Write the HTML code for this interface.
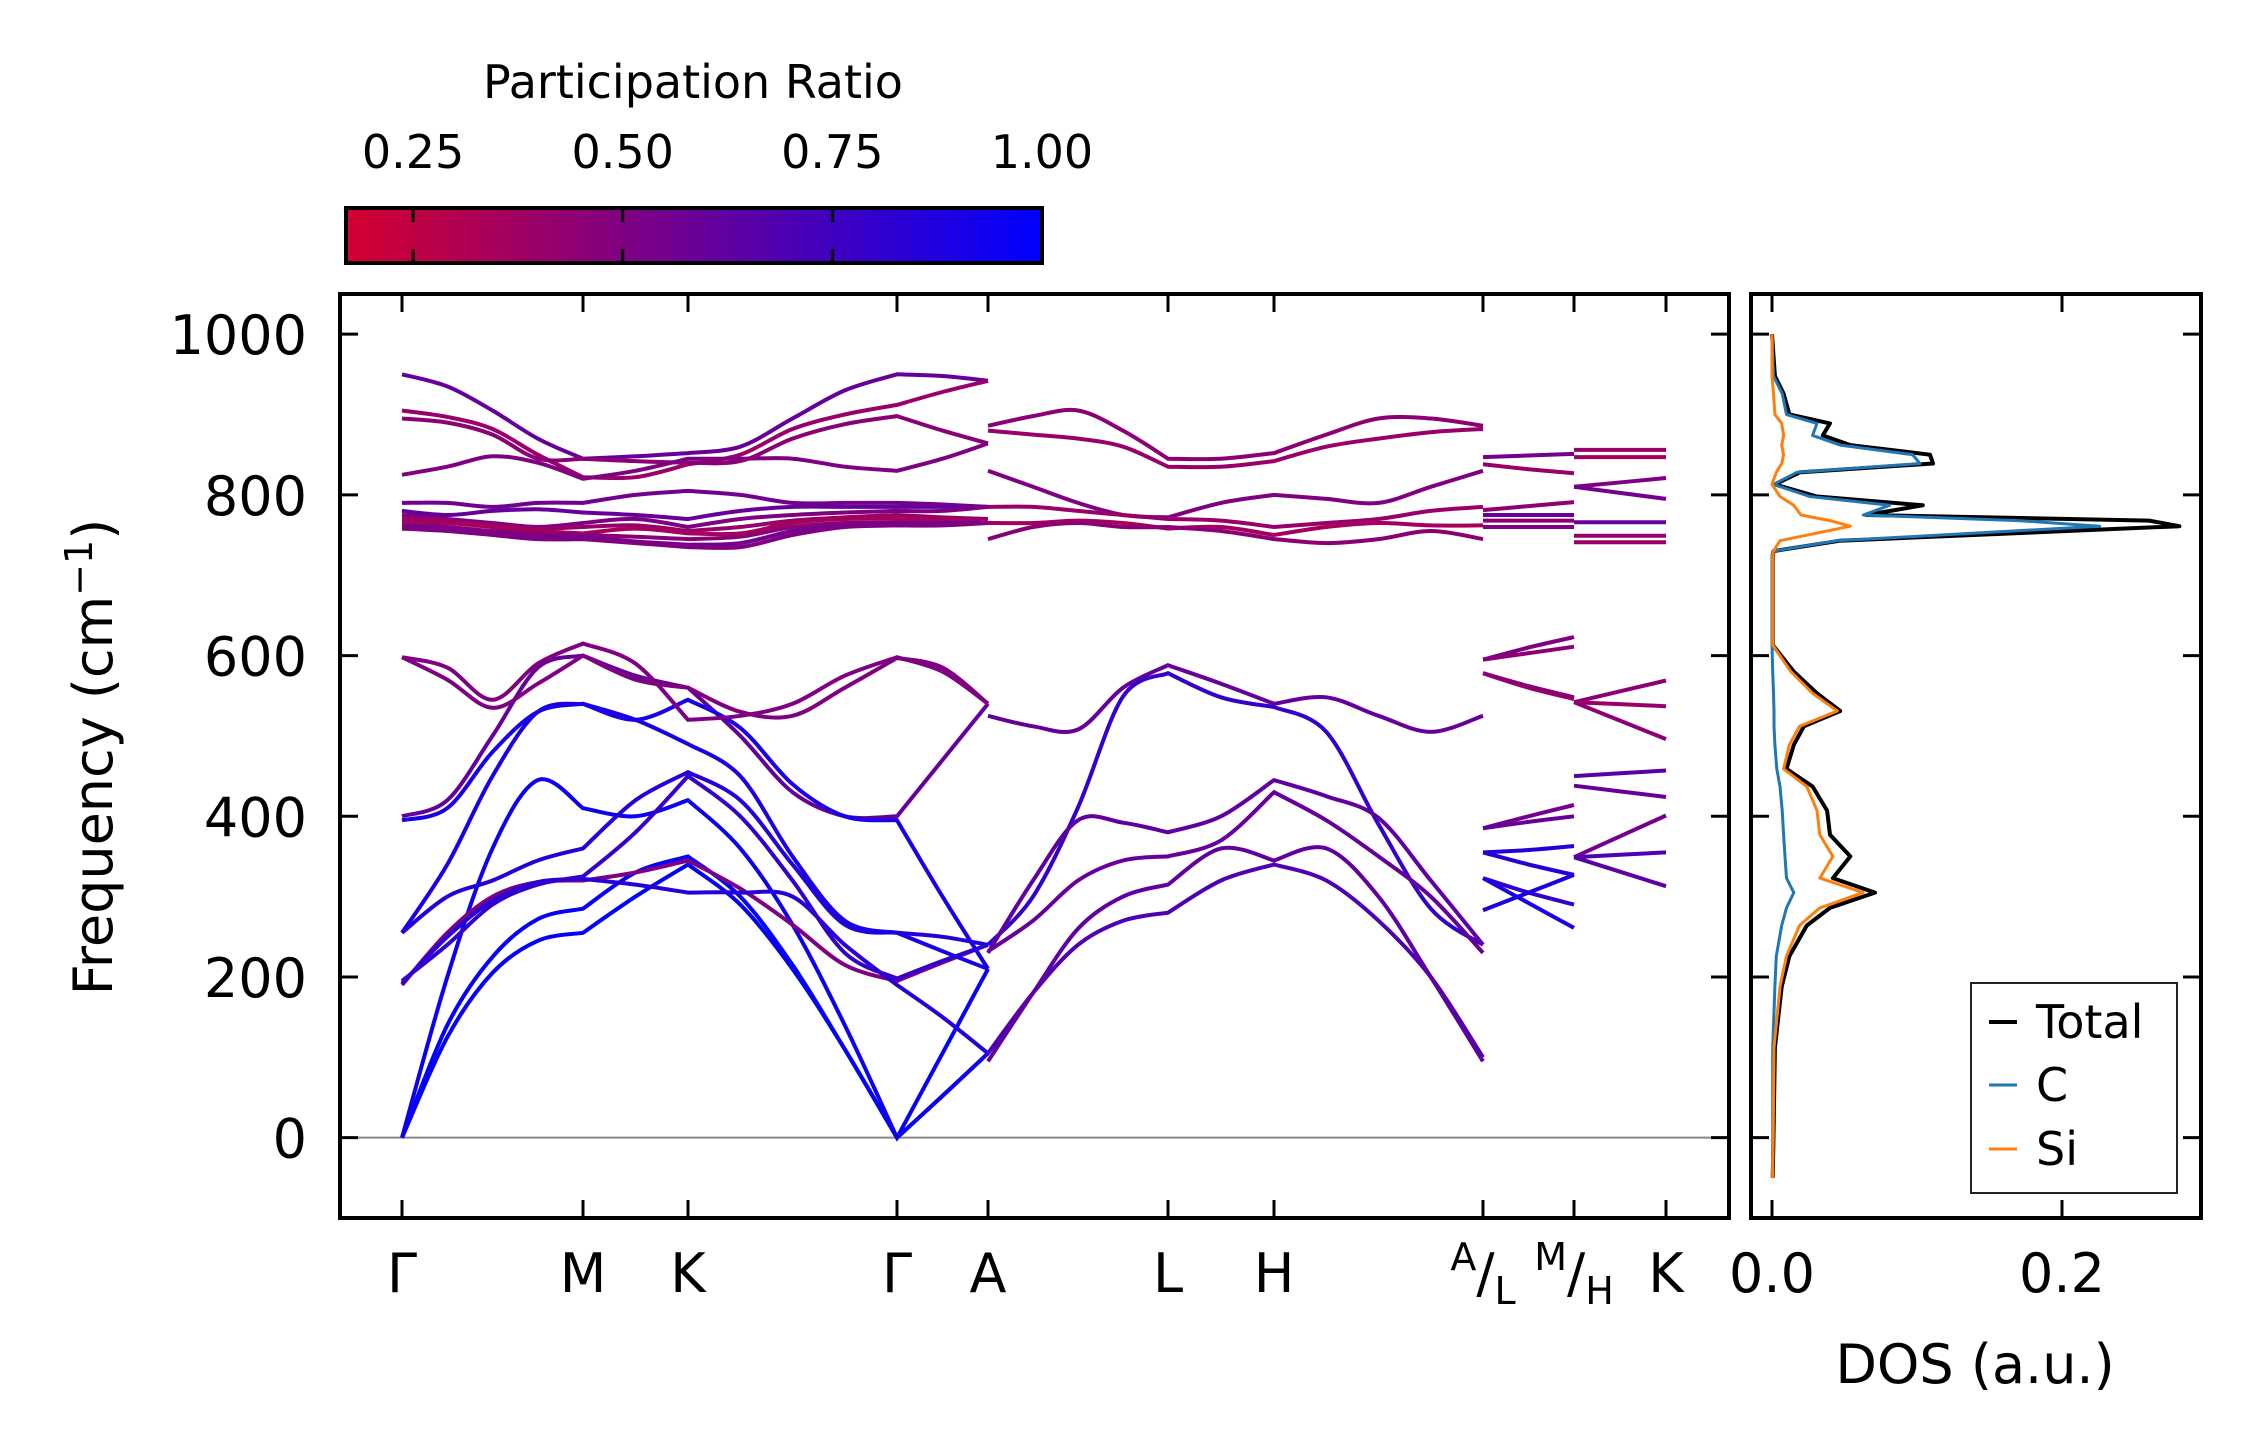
<!DOCTYPE html>
<html><head><meta charset="utf-8">
<style>
html,body{margin:0;padding:0;background:#fff;}
svg{display:block;font-family:"DejaVu Sans","Liberation Sans",sans-serif;}
</style></head>
<body>
<svg id="fig" width="2259" height="1455" viewBox="0 0 2259 1455" xmlns="http://www.w3.org/2000/svg">
<defs>
<linearGradient id="cbgrad" x1="0" x2="1" y1="0" y2="0">
<stop offset="0" stop-color="rgb(212,0,47)"/>
<stop offset="1" stop-color="rgb(0,0,255)"/>
</linearGradient>
<clipPath id="mainclip"><rect x="340" y="294" width="1389" height="924"/></clipPath>
<clipPath id="dosclip"><rect x="1751" y="294" width="450" height="924"/></clipPath>
</defs>
<g id="colorbar">
<text x="693" y="98" font-size="46" text-anchor="middle">Participation Ratio</text>
<rect x="346" y="208" width="696" height="55" fill="url(#cbgrad)" stroke="#000" stroke-width="4"/>
</g>
<g id="bands" clip-path="url(#mainclip)"></g>
<g id="dos" clip-path="url(#dosclip)"></g>
<g id="axes"></g>
<text transform="translate(112,757) rotate(-90)" font-size="54" text-anchor="middle">Frequency (cm<tspan dy="-20" font-size="38">−1</tspan><tspan dy="20">)</tspan></text>
<text x="1975" y="1383" font-size="54" text-anchor="middle">DOS (a.u.)</text>
<g>
<rect x="1971" y="983" width="206" height="210" fill="#fff" stroke="#222" stroke-width="2"/>
<line x1="1989" y1="1022" x2="2017" y2="1022" stroke="#000" stroke-width="4"/>
<text x="2036" y="1038" font-size="46">Total</text>
<line x1="1989" y1="1085" x2="2017" y2="1085" stroke="#1f77b4" stroke-width="3"/>
<text x="2036" y="1101" font-size="46">C</text>
<line x1="1989" y1="1149" x2="2017" y2="1149" stroke="#ff7f0e" stroke-width="3"/>
<text x="2036" y="1165" font-size="46">Si</text>
</g>
</svg>
<script>
// ---- data ----
const kLabels = ["Γ","M","K","Γ","A","L","H","A/L","M/H","K"];
const yTicks = [0,200,400,600,800,1000];
const cbTicks = [0.25,0.5,0.75,1.0];
const dosTicks = [0.0,0.2];
// section sample positions (in high-symmetry-point index units)
const sec1K = [0,0.25,0.5,0.75,1,1.5,2,2.25,2.5,2.75,3,3.5,4];
const sec2K = [4,4.25,4.5,4.75,5,5.5,6,6.25,6.5,6.75,7];
const sec3K = [7,7.5,8];
const sec4K = [8,9];
// section 1: Γ-M-K-Γ-A
const sec1Bands = [
[950,935,905,870,845,848,852,860,895,930,950,948,942],
[905,897,882,850,822,822,838,850,882,900,912,928,942],
[895,890,875,845,845,842,840,842,870,888,898,880,864],
[825,835,848,840,820,830,845,845,845,835,830,845,864],
[790,790,785,790,790,800,805,800,790,790,790,788,785],
[780,775,780,782,778,775,770,780,785,785,785,785,785],
[775,770,765,760,765,770,760,770,775,778,780,780,785],
[770,768,762,758,760,762,755,760,768,772,775,772,770],
[765,765,760,755,752,758,752,752,765,770,770,768,765],
[762,760,755,752,750,748,745,748,760,765,765,765,765],
[760,758,752,748,748,742,738,740,755,762,765,765,765],
[758,755,750,745,745,740,735,735,750,760,762,762,765],
[0,125,205,245,255,300,340,290,210,110,0,52,105],
[0,140,225,272,285,330,350,300,215,110,0,105,210],
[0,200,360,445,410,400,420,360,265,140,0,52,105],
[190,255,300,318,320,330,345,310,265,215,195,218,240],
[192,250,295,318,322,315,305,305,300,240,190,150,105],
[195,240,290,315,325,380,450,400,320,230,198,220,240],
[255,300,320,345,360,420,455,420,340,265,255,250,240],
[255,340,450,530,540,520,490,450,350,270,255,232,210],
[400,420,500,585,600,575,560,500,430,400,400,470,540],
[395,410,480,530,540,520,545,510,440,400,395,300,210],
[598,570,535,565,600,570,560,530,525,560,597,585,540],
[598,585,545,590,615,590,520,525,540,575,598,580,540]];
const sec1PR = [0.6,0.4,0.45,0.5,0.55,0.6,0.5,0.4,0.35,0.45,0.55,0.5,
0.98,0.98,0.95,0.5,0.85,0.8,0.85,0.9,0.6,0.9,0.5,0.5];
// section 2: A-L-H-A
const sec2Bands = [
[886,898,905,880,845,845,852,875,895,895,886],
[880,875,870,860,835,835,842,860,870,878,882],
[830,810,790,775,772,790,800,795,790,810,830],
[785,785,780,775,770,768,760,765,770,780,785],
[765,765,768,765,758,760,750,760,765,762,762],
[745,760,765,760,760,755,745,740,745,755,745],
[525,512,508,560,588,565,540,548,525,505,525],
[240,300,411,549,578,548,536,505,390,285,240],
[230,320,395,392,380,400,445,425,398,320,240],
[232,270,320,345,350,370,430,395,350,300,230],
[105,180,240,270,280,320,340,320,270,200,100],
[95,180,260,300,315,360,345,360,300,200,95]];
const sec2PR = [0.45,0.4,0.5,0.4,0.35,0.45,0.6,0.8,0.62,0.6,0.7,0.62];
// section 3: L-M
const sec3Bands = [
[847,849,851],[838,832,827],[781,786,791],[775,775,775],[768,768,768],[760,760,760],
[595,610,623],[595,603,611],[578,560,546],[578,562,548],[385,400,414],[385,393,400],
[355,358,363],[355,340,327],[323,305,290],[323,292,261],[283,305,327]];
const sec3PR = [0.55,0.4,0.45,0.6,0.45,0.5,0.5,0.45,0.4,0.45,0.55,0.6,0.85,0.85,0.8,0.9,0.9];
// section 4: H-K
const sec4Bands = [
[856,856],[847,847],[810,821],[810,795],[766,766],[749,749],[741,741],
[542,569],[542,537],[542,496],[450,457],[438,424],[349,401],[349,355],[349,313]];
const sec4PR = [0.4,0.35,0.5,0.55,0.6,0.4,0.4,0.45,0.4,0.45,0.65,0.6,0.55,0.7,0.65];
// DOS
const dosFreq  = [-50,0,112,188,226,264,286,305,323,350,377,407,437,459,489,512,531,553,580,613,725,730,743,761,768,775,787,798,813,828,839,850,862,874,889,900,926,948,1000];
const dosTotal = [0.0005,0.001,0.002,0.0067,0.012,0.024,0.040,0.071,0.042,0.054,0.040,0.038,0.028,0.010,0.015,0.022,0.047,0.031,0.015,0.0005,0.0005,0.001,0.047,0.281,0.26,0.065,0.104,0.031,0.002,0.019,0.111,0.109,0.054,0.035,0.040,0.012,0.008,0.002,0.0];
const dosC     = [0.0003,0.0005,0.0005,0.002,0.003,0.0067,0.010,0.015,0.010,0.009,0.008,0.007,0.0055,0.0033,0.002,0.0014,0.0014,0.001,0.0005,0.0,0.0,0.001,0.045,0.226,0.17,0.063,0.081,0.026,0.001,0.017,0.102,0.097,0.047,0.028,0.031,0.010,0.007,0.001,0.0];
const dosSi    = [0.0004,0.0008,0.0014,0.0055,0.010,0.019,0.033,0.063,0.033,0.042,0.033,0.031,0.024,0.008,0.012,0.019,0.045,0.028,0.013,0.0005,0.0005,0.001,0.0055,0.054,0.04,0.020,0.015,0.0055,0.0,0.003,0.0067,0.008,0.0067,0.008,0.0067,0.002,0.001,0.0,0.0];

// ---- scales ----
const NS = "http://www.w3.org/2000/svg";
const kTickX = [402,583,688,897,988,1168,1274,1483,1574,1666];
const plotL = 340, plotR = 1729, plotT = 294, plotB = 1218;
const dosL = 1751, dosR = 2201;
const yMin = -100, yMax = 1050;
function yScale(f){ return plotB - (f - yMin) / (yMax - yMin) * (plotB - plotT); }
function kScale(k){ const i = Math.min(Math.floor(k), kTickX.length - 2); const fr = k - i; return kTickX[i] + fr * (kTickX[i+1] - kTickX[i]); }
function dosScale(d){ return 1772 + d / 0.2 * (2062 - 1772); }
function cbScale(p){ return 346 + (p - 0.17) / (1.0 - 0.17) * (1042 - 346); }
function prColor(p){ const t = Math.max(0, Math.min(1, (p - 0.17) / 0.83)); return "rgb(" + Math.round(212*(1-t)) + ",0," + Math.round(47 + 208*t) + ")"; }

function smoothPath(pts, ks){
  const isNode = i => Math.abs(ks[i] - Math.round(ks[i])) < 1e-9;
  let d = "M" + pts[0][0].toFixed(1) + "," + pts[0][1].toFixed(1);
  for (let i = 0; i < pts.length - 1; i++){
    const p1 = pts[i], p2 = pts[i+1];
    const p0 = (i === 0 || isNode(i)) ? p1 : pts[i-1];
    const p3 = (i + 2 >= pts.length || isNode(i+1)) ? p2 : pts[i+2];
    const s1 = (p0 === p1) ? 3 : 6, s2 = (p3 === p2) ? 3 : 6;
    const c1 = [p1[0] + (p2[0]-p0[0])/s1/ (p0===p1?2:1), p1[1] + (p2[1]-p0[1])/s1/(p0===p1?2:1)];
    const c2 = [p2[0] - (p3[0]-p1[0])/s2/(p3===p2?2:1), p2[1] - (p3[1]-p1[1])/s2/(p3===p2?2:1)];
    d += " C" + c1[0].toFixed(1) + "," + c1[1].toFixed(1) + " " + c2[0].toFixed(1) + "," + c2[1].toFixed(1) + " " + p2[0].toFixed(1) + "," + p2[1].toFixed(1);
  }
  return d;
}

const bandsG = document.getElementById("bands");
const zl = document.createElementNS(NS, "line");
zl.setAttribute("x1", plotL); zl.setAttribute("x2", plotR);
zl.setAttribute("y1", yScale(0)); zl.setAttribute("y2", yScale(0));
zl.setAttribute("stroke", "#888"); zl.setAttribute("stroke-width", "2");


bandsG.appendChild(zl);

function drawSection(ks, bands, prs, name){
  bands.forEach((vals, bi) => {
    const pts = vals.map((v, i) => [kScale(ks[i]), yScale(v)]);
    const p = document.createElementNS(NS, "path");
    p.setAttribute("d", smoothPath(pts, ks));
    p.setAttribute("fill", "none");
    p.setAttribute("stroke", prColor(prs[bi]));
    p.setAttribute("stroke-width", "4");
    
    
    bandsG.appendChild(p);
  });
}
drawSection(sec1K, sec1Bands, sec1PR, "gamma-m-k-gamma-a");
drawSection(sec2K, sec2Bands, sec2PR, "a-l-h-a");
drawSection(sec3K, sec3Bands, sec3PR, "l-m");
drawSection(sec4K, sec4Bands, sec4PR, "h-k");

// DOS
const dosG = document.getElementById("dos");
function drawDos(vals, color, w, name){
  const pts = vals.map((v, i) => dosScale(v).toFixed(1) + "," + yScale(dosFreq[i]).toFixed(1));
  const pl = document.createElementNS(NS, "polyline");
  pl.setAttribute("points", pts.join(" "));
  pl.setAttribute("fill", "none");
  pl.setAttribute("stroke", color);
  pl.setAttribute("stroke-width", w);
  pl.setAttribute("stroke-linejoin", "round");
  
  
  dosG.appendChild(pl);
}
drawDos(dosTotal, "#000", 4, "dos-total-line");
drawDos(dosC, "#1f77b4", 3, "dos-c-line");
drawDos(dosSi, "#ff7f0e", 3, "dos-si-line");

// axes
const ax = document.getElementById("axes");
function mk(tag, attrs){ const e = document.createElementNS(NS, tag); for (const k in attrs) e.setAttribute(k, attrs[k]); ax.appendChild(e); return e; }
const frame1 = mk("rect", {x: plotL, y: plotT, width: plotR - plotL, height: plotB - plotT, fill: "none", stroke: "#000", "stroke-width": 4});


const frame2 = mk("rect", {x: dosL, y: plotT, width: dosR - dosL, height: plotB - plotT, fill: "none", stroke: "#000", "stroke-width": 4});


const TL = 18;
kLabels.forEach((lab, i) => {
  const x = kTickX[i];
  const t1 = mk("line", {x1: x, x2: x, y1: plotB, y2: plotB - TL, stroke: "#000", "stroke-width": 3});
  
  
  const t2 = mk("line", {x1: x, x2: x, y1: plotT, y2: plotT + TL, stroke: "#000", "stroke-width": 3});
  
  
  const tx = mk("text", {x: x, y: 1292, "font-size": 54, "text-anchor": "middle"});
  if (lab.indexOf("/") > 0){
    const parts = lab.split("/");
    tx.innerHTML = '<tspan font-size="38" dy="-22">' + parts[0] + '</tspan><tspan dy="22">/</tspan><tspan font-size="38" dy="12">' + parts[1] + '</tspan>';
  } else tx.textContent = lab;
  
  
});
yTicks.forEach(v => {
  const y = yScale(v);
  [[plotL, plotL + TL], [plotR, plotR - TL], [dosL, dosL + TL], [dosR, dosR - TL]].forEach(pr => {
    const t = mk("line", {x1: pr[0], x2: pr[1], y1: y, y2: y, stroke: "#000", "stroke-width": 3});
    
    
  });
  const tx = mk("text", {x: 307, y: y + 20, "font-size": 54, "text-anchor": "end"});
  tx.textContent = String(v);
  
  
});
dosTicks.forEach(v => {
  const x = dosScale(v);
  const t1 = mk("line", {x1: x, x2: x, y1: plotB, y2: plotB - TL, stroke: "#000", "stroke-width": 3});
  
  
  const t2 = mk("line", {x1: x, x2: x, y1: plotT, y2: plotT + TL, stroke: "#000", "stroke-width": 3});
  
  
  const tx = mk("text", {x: x, y: 1292, "font-size": 54, "text-anchor": "middle"});
  tx.textContent = v.toFixed(1);
  
  
});
cbTicks.forEach(v => {
  const x = cbScale(v);
  if (v < 1.0){
    const a = mk("line", {x1: x, x2: x, y1: 208, y2: 222, stroke: "#000", "stroke-width": 3});
    
    
    const b = mk("line", {x1: x, x2: x, y1: 249, y2: 263, stroke: "#000", "stroke-width": 3});
    
    
  }
  const tx = mk("text", {x: x, y: 168, "font-size": 46, "text-anchor": "middle"});
  tx.textContent = v.toFixed(2);
  
  
});
</script>
</body></html>
